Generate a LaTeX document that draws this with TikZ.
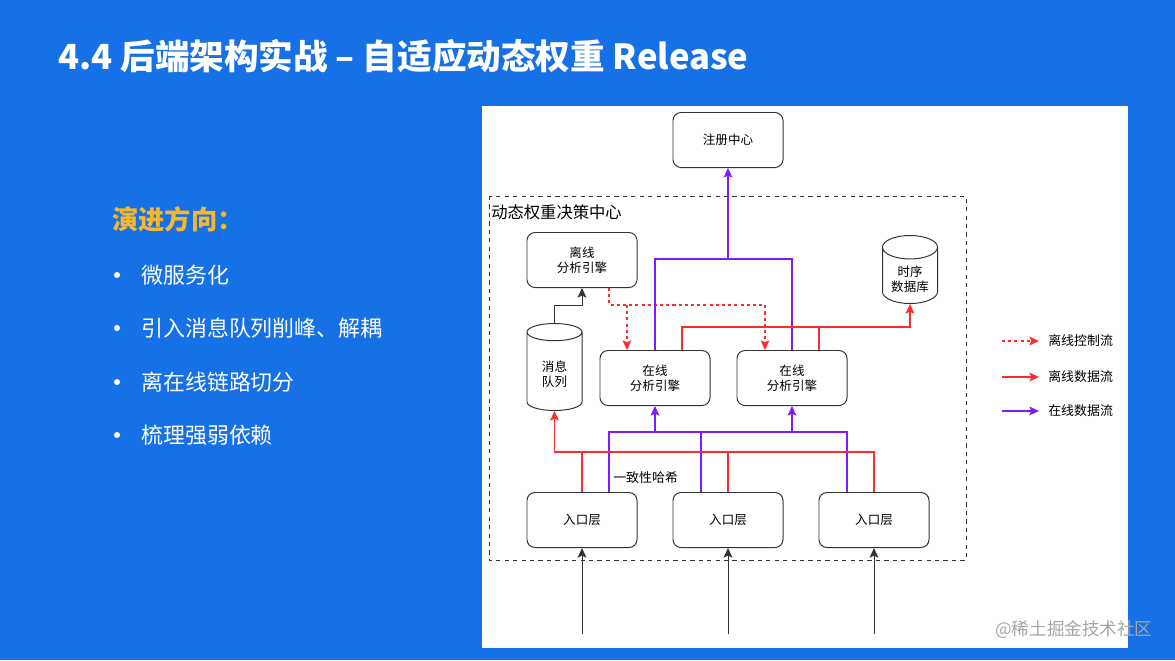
\documentclass[tikz,border=0pt]{standalone}
\usepackage{fontspec}
\setmainfont{Noto Sans CJK SC}
\usepackage{tikz}
\usetikzlibrary{arrows.meta,shapes.geometric,calc}

\definecolor{slideblue}{HTML}{1670E6}
\definecolor{accent}{HTML}{F5B730}
\definecolor{offred}{HTML}{FF2A2A}
\definecolor{onpurple}{HTML}{7F1AFF}
\definecolor{edge}{HTML}{333333}

\begin{document}
\begin{tikzpicture}[x=0.025cm, y=-0.025cm,
    box/.style={draw=edge, line width=0.7pt, rounded corners=0.2cm, fill=white,
      minimum width=2.75cm, minimum height=1.375cm, align=center,
      font=\fontsize{8.9}{10.7}\selectfont},
    db/.style={draw=edge, line width=0.7pt, cylinder, shape border rotate=90,
      aspect=0.5, fill=white, minimum width=1.375cm, align=center,
      font=\fontsize{8.9}{10.7}\selectfont},
    small/.style={inner sep=0pt, font=\fontsize{9.2}{11}\selectfont},
    bullet/.style={anchor=west, inner sep=0pt, text=white, font=\fontsize{15.6}{19}\selectfont},
    tip/.style={-{Stealth[length=2.4mm,width=2.2mm,inset=0.5mm]}},
    offctl/.style={offred, line width=0.9pt, dash pattern=on 2.2pt off 2.2pt},
    offdata/.style={offred, line width=0.8pt},
    ondata/.style={onpurple, line width=0.8pt},
    plain/.style={edge, line width=0.7pt}
  ]
    % slide
    \fill[slideblue] (0,0) rectangle (1175,660);
    \fill[white] (482,106) rectangle (1128,648);

    \node[anchor=west, inner sep=0pt, text=white, font=\bfseries\fontsize{24.6}{28}\selectfont] (title) at (58,56) {4.4 后端架构实战 – 自适应动态权重 Release};

    \node[anchor=west, inner sep=0pt, text=accent, font=\bfseries\fontsize{18.7}{22}\selectfont] (head) at (112,219) {演进方向：};
    \node[bullet] (b1) at (141,275) {微服务化};
    \node[bullet] (b2) at (141,328) {引入消息队列削峰、解耦};
    \node[bullet] (b3) at (141,382) {离在线链路切分};
    \node[bullet] (b4) at (141,435) {梳理强弱依赖};
    \foreach \b in {b1,b2,b3,b4}
      \fill[white] ($(\b.west)+(-24,0)$) circle (3);

    % diagram
    \node[box] (reg) at (728,140) {注册中心};
    \draw[plain, dashed] (489,196) rectangle (966,560);
    \node[anchor=west, inner sep=0pt, font=\fontsize{11.6}{14}\selectfont] (dwc) at (491,212) {动态权重决策中心};

    \node[box] (offline) at (582,260) {离线\\分析引擎};
    \node[db, minimum height=1.7cm, anchor=north] (tsdb) at (910,235) {时序\\数据库};
    \node[db, minimum height=2.175cm, anchor=north] (mq) at (554.5,323) {消息\\队列};
    \node[box] (on1) at (655,378) {在线\\分析引擎};
    \node[box] (on2) at (792,378) {在线\\分析引擎};
    \node[box] (in1) at (582,520) {入口层};
    \node[box] (in2) at (728,520) {入口层};
    \node[box] (in3) at (874,520) {入口层};

    % mq -> offline
    \draw[plain, tip] (mq.north) -- ++(0,-18) -| (offline.south);
    % offline control
    \draw[offctl, tip] ($(offline.south)+(27,0)$) -- ++(0,17) -| ($(on2.north)+(-27,0)$);
    \draw[offctl, tip] ($(on1.north)+(-28,-45)$) -- ($(on1.north)+(-28,0)$);
    % online -> registry
    \coordinate (pjoin) at ($(reg.south)+(0,91)$);
    \draw[ondata] (on1.north) |- (pjoin) -| (on2.north);
    \draw[ondata, tip] (pjoin) -- (reg.south);
    % online -> tsdb
    \draw[offdata, tip] ($(on1.north)+(27,0)$) -- ++(0,-23) -| (tsdb.south);
    \draw[offdata] ($(on2.north)+(27,0)$) -- ++(0,-23);
    % entry -> online
    \draw[ondata] ($(in1.north)+(27,0)$) -- ++(0,-60) -| ($(in3.north)+(-27,0)$);
    \draw[ondata] ($(in2.north)+(-27,0)$) -- ++(0,-60);
    \draw[ondata, tip] ($(on1.south)+(0,27)$) -- (on1.south);
    \draw[ondata, tip] ($(on2.south)+(0,27)$) -- (on2.south);
    % entry -> mq
    \draw[offdata, tip] (in3.north) -- ++(0,-40) -| (mq.south);
    \draw[offdata] (in1.north) -- ++(0,-40);
    \draw[offdata] (in2.north) -- ++(0,-40);
    \node[small, anchor=west] (hash) at (613,478) {一致性哈希};

    % requests
    \draw[plain, tip] ($(in1.south)+(0,86)$) -- (in1.south);
    \draw[plain, tip] ($(in2.south)+(0,86)$) -- (in2.south);
    \draw[plain, tip] ($(in3.south)+(0,86)$) -- (in3.south);

    % legend
    \node[small, anchor=west] (lg1) at (1048,341) {离线控制流};
    \node[small, anchor=west] (lg2) at (1048,377) {离线数据流};
    \node[small, anchor=west] (lg3) at (1048,411) {在线数据流};
    \draw[offctl, tip] ($(lg1.west)+(-46,0)$) -- ($(lg1.west)+(-9,0)$);
    \draw[offdata, tip] ($(lg2.west)+(-46,0)$) -- ($(lg2.west)+(-9,0)$);
    \draw[ondata, tip] ($(lg3.west)+(-46,0)$) -- ($(lg3.west)+(-9,0)$);

    \node[anchor=west, inner sep=0pt, text=black!35, font=\fontsize{12.5}{15}\selectfont] (mark) at (995,630) {@稀土掘金技术社区};
\end{tikzpicture}
\end{document}
